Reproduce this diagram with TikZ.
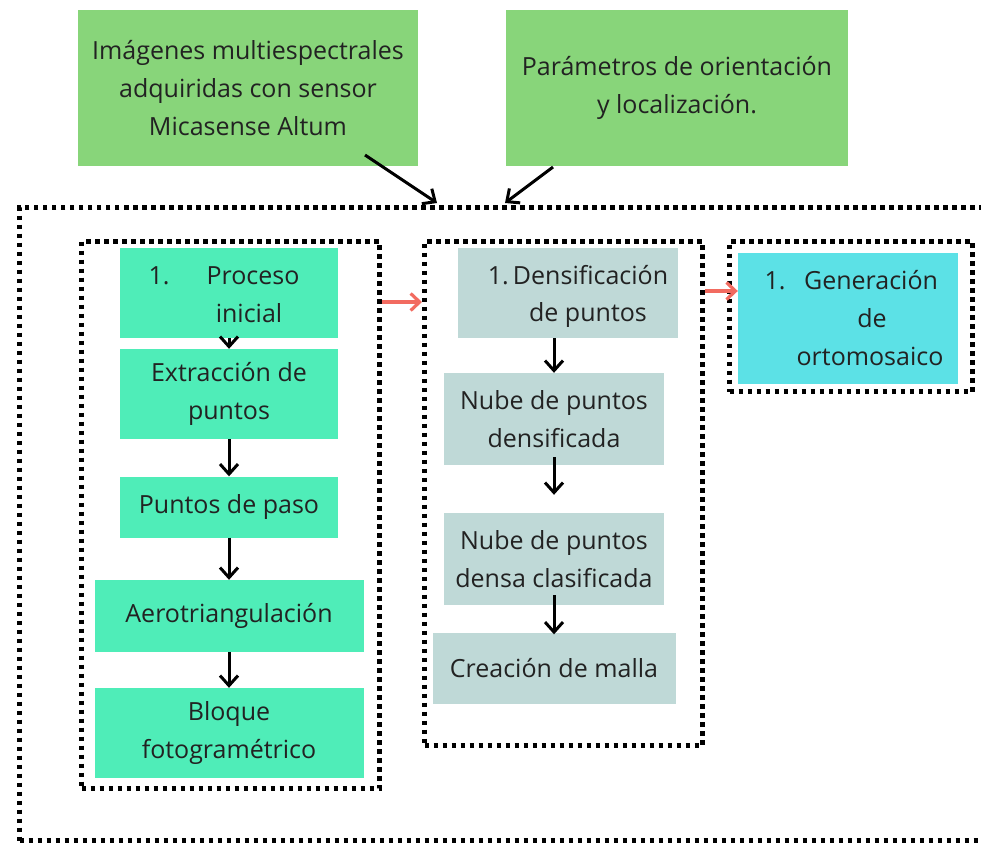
\documentclass[tikz,border=0pt]{standalone}
\usepackage{fontspec}
\setmainfont{Open Sans}
\usetikzlibrary{arrows.meta}
\definecolor{topgreen}{HTML}{88D57A}
\definecolor{mint}{HTML}{4FEDB8}
\definecolor{greyteal}{HTML}{BFD9D7}
\definecolor{cyanbox}{HTML}{5CE1E6}
\definecolor{salmon}{HTML}{F26B60}
\definecolor{txt}{HTML}{222222}
\begin{document}
\begin{tikzpicture}[x=1pt,y=-1pt,
  every node/.style={font=\fontsize{25}{38}\selectfont, text=txt},
  fillbox/.style={rectangle, draw=none, inner sep=0pt, align=center},
  dotbox/.style={rectangle, draw=black, line width=5pt, dash pattern=on 4.5pt off 4.5pt, inner sep=0pt, fill=none},
  blk/.style={-{Straight Barb[length=10pt,width=18pt,line width=3pt]}, line width=3pt, black},
  redarr/.style={-{Straight Barb[length=9pt,width=17pt,line width=3.2pt]}, line width=3.2pt, salmon},
  lbl/.style={inner sep=0pt, anchor=base}
]
\useasboundingbox (0,0) rectangle (981,843);
\begin{scope}
\clip (0,0) rectangle (981,843);
\node[dotbox, minimum width=980pt, minimum height=633pt, anchor=north west] (outer) at (17,205) {};
\end{scope}
% top inputs
\node[fillbox, fill=topgreen, minimum width=340pt, minimum height=156pt] (in1) at (248,88) {Imágenes multiespectrales\\adquiridas con sensor\\Micasense Altum};
\node[fillbox, fill=topgreen, minimum width=342pt, minimum height=156pt] (in2) at (677,88) {Parámetros de orientación\\y localización.};
\coordinate (a1s) at (365,155);
\coordinate (a1e) at (437,203);
\coordinate (a2s) at (553,167);
\coordinate (a2e) at (505,203);
\draw[blk] (a1s) -- (a1e);
\draw[blk] (a2s) -- (a2e);
% dotted groups
\node[dotbox, minimum width=298pt, minimum height=547pt, anchor=north west] (L) at (79,239) {};
\node[dotbox, minimum width=278pt, minimum height=504pt, anchor=north west] (M) at (422,239) {};
\node[dotbox, minimum width=243pt, minimum height=150pt, anchor=north west] (R) at (727,239) {};
% left column
\node[fillbox, fill=mint, minimum width=218pt, minimum height=90pt] (p1) at (229,293) {};
\node[lbl] (p1n) at (159,284) {1.};
\node[lbl] (p1a) at (253,284) {Proceso};
\node[lbl] (p1b) at (249,322) {inicial};
\node[fillbox, fill=mint, minimum width=218pt, minimum height=90pt] (p2) at (229,394) {Extracción de\\puntos};
\node[fillbox, fill=mint, minimum width=218pt, minimum height=61pt] (p3) at (229,507) {Puntos de paso};
\node[fillbox, fill=mint, minimum width=269pt, minimum height=72pt] (p4) at (229,616) {Aerotriangulación};
\node[fillbox, fill=mint, minimum width=269pt, minimum height=90pt] (p5) at (229,733) {Bloque\\fotogramétrico};
\draw[blk] (p1.south) -- (p2.north);
\draw[blk] (p2.south) -- (p3.north);
\draw[blk] (p3.south) -- (p4.north);
\draw[blk] (p4.south) -- (p5.north);
% middle column
\node[fillbox, fill=greyteal, minimum width=220pt, minimum height=90pt] (d1) at (568,293) {};
\node[lbl] (d1a) at (578,284) {1.\,Densificación};
\node[lbl] (d1b) at (588,321) {de puntos};
\node[fillbox, fill=greyteal, minimum width=220pt, minimum height=92pt] (d2) at (554,419) {Nube de puntos\\densificada};
\node[fillbox, fill=greyteal, minimum width=220pt, minimum height=92pt] (d3) at (554,559) {Nube de puntos\\densa clasificada};
\node[fillbox, fill=greyteal, minimum width=243pt, minimum height=71pt] (d4) at (554,668) {Creación de malla};
\draw[blk] (d1.south -| d2.north) -- (d2.north);
\draw[blk] ([yshift=8pt]d2.south) -- ([yshift=18pt]d3.north);
\draw[blk] ([yshift=10pt]d3.south) -- ([yshift=-2pt]d4.north);
% right
\node[fillbox, fill=cyanbox, minimum width=220pt, minimum height=131pt] (g1) at (848,318) {};
\node[lbl] (g1n) at (775,289) {1.};
\node[lbl] (g1a) at (871,289) {Generación};
\node[lbl] (g1b) at (872,327) {de};
\node[lbl] (g1c) at (870,365) {ortomosaico};
% red arrows
\draw[redarr] (L.east |- 0,302) -- (M.west |- 0,302);
\draw[redarr] (M.east |- 0,291) -- (g1.west |- 0,291);
\end{tikzpicture}
\end{document}
